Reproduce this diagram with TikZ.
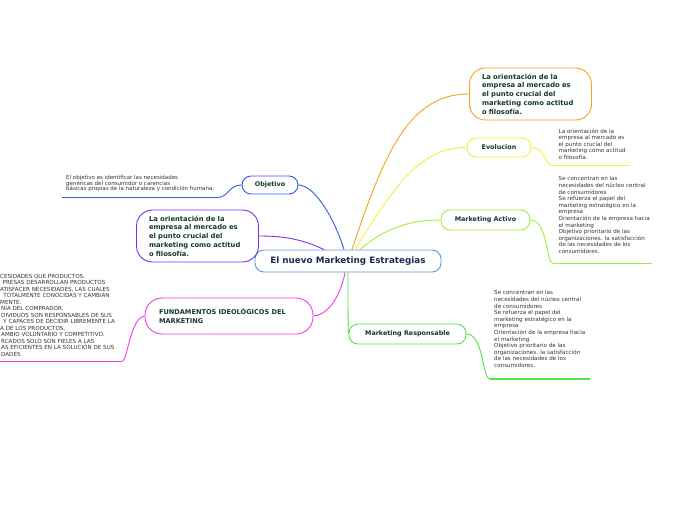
\documentclass[tikz,border=0pt]{standalone}
\usepackage{fontspec}
\setmainfont{DejaVu Sans}
\definecolor{ntxt}{HTML}{12392C}
\definecolor{ctxt}{HTML}{1C2B4F}
\definecolor{btxt}{HTML}{333333}
\definecolor{cblue}{HTML}{5A9BD8}
\definecolor{corange}{HTML}{F5A21E}
\definecolor{cyellow}{HTML}{EEF23A}
\definecolor{clime}{HTML}{A0EF3C}
\definecolor{cgreen}{HTML}{4DE83D}
\definecolor{cobj}{HTML}{2E5CE6}
\definecolor{cpurple}{HTML}{7B2FEA}
\definecolor{cmag}{HTML}{F03CE6}
\tikzset{
  mnode/.style={draw, fill=white, line width=0.9pt, rounded corners=9pt, text=ntxt,
    font=\fontsize{6.4}{8}\selectfont\bfseries, inner sep=0pt, align=center},
  bignode/.style={draw, fill=white, line width=0.9pt, rounded corners=16pt, text=ntxt,
    font=\fontsize{6.8}{8.7}\selectfont\bfseries, inner sep=0pt, align=left},
  btext/.style={anchor=north west, inner sep=0pt, align=left, text=btxt,
    font=\fontsize{5.6}{6.6}\selectfont},
  conn/.style={line width=0.9pt},
  uline/.style={line width=1.4pt}
}
\begin{document}
\begin{tikzpicture}[x=1pt,y=-1pt]
\useasboundingbox (0,0) rectangle (696,520);
% central
\node[mnode, draw=cblue, text=ctxt, minimum width=186pt, minimum height=22pt,
  font=\fontsize{8.8}{10}\selectfont\bfseries] (c) at (348,261) {El nuevo Marketing Estrategias};
% branches
\node[bignode, draw=corange, minimum width=122pt, minimum height=52pt, text width=97pt] (o) at (530.5,94)
  {La orientación de la\\empresa al mercado es\\el punto crucial del\\marketing como actitud\\o filosofía.};
\node[mnode, draw=cyellow, minimum width=64pt, minimum height=19pt] (ev) at (499,147.5) {Evolucion};
\node[mnode, draw=clime, minimum width=89pt, minimum height=20pt] (ma) at (485.5,220) {Marketing Activo};
\node[mnode, draw=cgreen, minimum width=117pt, minimum height=20pt] (mr) at (407.5,334) {Marketing Responsable};
\node[mnode, draw=cobj, minimum width=56pt, minimum height=18pt] (ob) at (270,185) {Objetivo};
\node[bignode, draw=cpurple, minimum width=122pt, minimum height=52pt, text width=97pt] (pu) at (197.5,236)
  {La orientación de la\\empresa al mercado es\\el punto crucial del\\marketing como actitud\\o filosofía.};
\node[bignode, draw=cmag, minimum width=168pt, minimum height=36pt, text width=140pt, rounded corners=17pt,
  font=\fontsize{6.6}{8.6}\selectfont\bfseries] (fu) at (229,316)
  {FUNDAMENTOS IDEOLÓGICOS DEL\\MARKETING};
% central connectors
\draw[conn, corange] ([xshift=4pt]c.north) .. controls (385,150) and (410,94) .. (o.west);
\draw[conn, cyellow] ([xshift=7pt]c.north) .. controls (395,185) and (420,147.5) .. (ev.west);
\draw[conn, clime] ([xshift=12pt]c.north) .. controls (385,228) and (410,220) .. (ma.west);
\draw[conn, cobj] ([xshift=-4pt]c.north) .. controls (335,220) and (315,185) .. (ob.east);
\draw[conn, cpurple] ([xshift=-24pt]c.north) .. controls (300,238) and (280,236) .. (pu.east);
\draw[conn, cmag] ([xshift=-3pt]c.south) .. controls (340,300) and (325,316) .. (fu.east);
\draw[conn, cgreen] (c.south) .. controls (348,300) and (348,334) .. (mr.west);
% texts
\coordinate (evu1) at (553,165.5); \coordinate (evu2) at (630,165.5);
\node[btext] (evt) at (558.5,128.5) {La orientación de la\\empresa al mercado es\\el punto crucial del\\marketing como actitud\\o filosofía.};
\draw[conn, cyellow] (ev.east) .. controls (546,147.5) and (544,165.5) .. (evu1);
\draw[uline, cyellow] (evu1) -- (evu2);

\coordinate (mau1) at (553,263.5); \coordinate (mau2) at (652,263.5);
\node[btext] (mat) at (558.5,176.5) {Se concentran en las\\necesidades del núcleo central\\de consumidores\\Se refuerza el papel del\\marketing estratégico en la\\empresa\\Orientación de la empresa hacia\\el marketing\\Objetivo prioritario de las\\organizaciones. la satisfacción\\de las necesidades de los\\consumidores.};
\draw[conn, clime] (ma.east) .. controls (548,220) and (546,263.5) .. (mau1);
\draw[uline, clime] (mau1) -- (mau2);

\coordinate (mru1) at (490,379); \coordinate (mru2) at (590,379);
\node[btext] (mrt) at (494,290.5) {Se concentran en las\\necesidades del núcleo central\\de consumidores\\Se refuerza el papel del\\marketing estratégico en la\\empresa\\Orientación de la empresa hacia\\el marketing\\Objetivo prioritario de las\\organizaciones. la satisfacción\\de las necesidades de los\\consumidores.};
\draw[conn, cgreen] (mr.east) .. controls (484,334) and (482,379) .. (mru1);
\draw[uline, cgreen] (mru1) -- (mru2);

\coordinate (obu1) at (217,197.5); \coordinate (obu2) at (62,197.5);
\node[btext, font=\fontsize{5.5}{5.8}\selectfont] (obt) at (66,175) {El objetivo es identificar las necesidades\\genéricas del consumidor o carencias\\básicas propias de la naturaleza y condición humana,};
\draw[conn, cobj] (ob.west) .. controls (228,185) and (229,197.5) .. (obu1);
\draw[uline, cobj] (obu1) -- (obu2);

\coordinate (fuu1) at (122,361.5); \coordinate (fuu2) at (-5,361.5);
\node[btext, font=\fontsize{5.6}{6.5}\selectfont] (fut) at (0,274)
  {CESIDADES QUE PRODUCTOS.\\\hspace*{2.5pt}PRESAS DESARROLLAN PRODUCTOS\\ATISFACER NECESIDADES, LAS CUALES\\\hspace*{1.5pt} TOTALMENTE CONOCIDAS Y CAMBIAN\\MENTE.\\\hspace*{1pt}NÍA DEL COMPRADOR.\\\hspace*{1pt}DIVIDUOS SON RESPONSABLES DE SUS\\\hspace*{1.5pt} Y CAPACES DE DECIDIR LIBREMENTE LA\\A DE LOS PRODUCTOS.\\\hspace*{1pt}AMBIO VOLUNTARIO Y COMPETITIVO.\\\hspace*{1pt}RCADOS SOLO SON FIELES A LAS\\\hspace*{1pt}AS EFICIENTES EN LA SOLUCIÓN DE SUS\\\hspace*{1pt}DADES};
\draw[conn, cmag] (fu.west) .. controls (130,318) and (128,360) .. (fuu1);
\draw[uline, cmag] (fuu1) -- (fuu2);
\end{tikzpicture}
\end{document}
